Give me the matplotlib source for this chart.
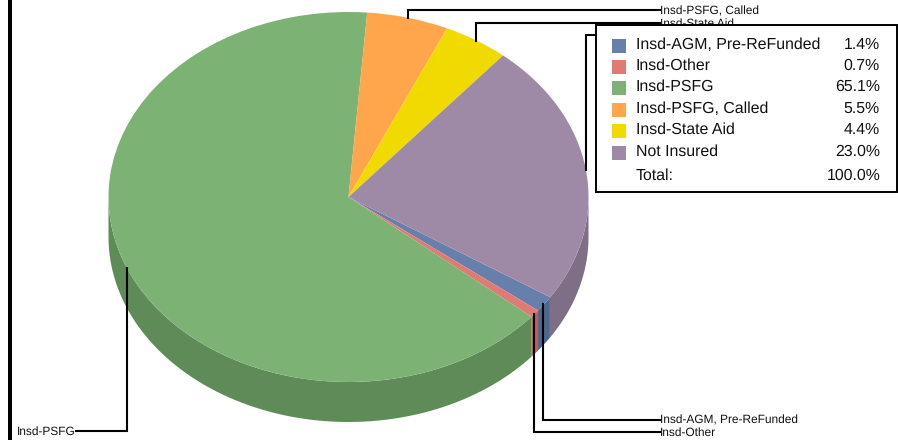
import numpy as np
import matplotlib
matplotlib.use('Agg')
import matplotlib.pyplot as plt
from matplotlib.patches import Rectangle

plt.rcParams['font.family'] = ['Liberation Sans', 'DejaVu Sans']
plt.rcParams['text.hinting'] = 'none'

# clockwise from the start angle, same order as the legend
names = ['Insd-AGM, Pre-ReFunded', 'Insd-Other', 'Insd-PSFG', 'Insd-PSFG, Called', 'Insd-State Aid', 'Not Insured']
values = [1.4, 0.7, 65.1, 5.5, 4.4, 23.0]
pct_labels = ['1.4%', '0.7%', '65.1%', '5.5%', '4.4%', '23.0%']
colors = ['#6680AB', '#E07A75', '#7DB275', '#FFA64D', '#F0DA00', '#9E8AA6']
side_colors = ['#4C6790', '#B8615C', '#5F8B59', '#C9813B', '#BBAA00', '#7E6E86']
total_label = '100.0%'

W, H = 898, 440
cx, cy, rx, ry, depth = 348.5, 197, 240, 185, 40
start = -32.8

fig = plt.figure(figsize=(W / 100, H / 100), dpi=100)

# pie axes, stretched so the circle turns into the tilted ellipse
ax = fig.add_axes([0, 0, 1, 1])
ax.pie(values, colors=colors, startangle=start, counterclock=False, radius=1, center=(0, 0),
       wedgeprops={'linewidth': 0})
ax.set_aspect('auto')
ax.set_xlim(-cx / rx, (W - cx) / rx)
ax.set_ylim((cy - H) / ry, cy / ry)
ax.axis('off')

# side wall, only the front half shows
d = depth / ry
ang = start
for v, c in zip(values, side_colors):
    a0, a1 = ang, ang - v * 3.6
    ang = a1
    if a0 < -180:
        a0 += 360
        a1 += 360
    a0n, a1n = min(a0, 0), max(a1, -180)
    if a1n >= a0n:
        continue
    t = np.radians(np.linspace(a0n, a1n, 80))
    x = np.cos(t)
    y = np.sin(t)
    ax.fill(np.r_[x, x[::-1]], np.r_[y, y[::-1] - d], color=c, lw=0, zorder=0)

# pixel overlay for leaders and legend
ov = fig.add_axes([0, 0, 1, 1])
ov.set_xlim(0, W)
ov.set_ylim(H, 0)
ov.axis('off')
ov.patch.set_alpha(0)

ov.add_patch(Rectangle((8, 0), 4, H, color='black', lw=0))

leaders = [
    ([408, 408, 660], [18, 10, 10]),
    ([476, 476, 660], [41, 23, 23]),
    ([586, 586, 600], [170, 35, 35]),
    ([127, 127, 76], [268, 431, 431]),
    ([543, 543, 660], [304, 420, 420]),
    ([534, 534, 660], [314, 432, 432]),
]
for lx, ly in leaders:
    ov.plot(lx, ly, color='black', lw=1.5, solid_joinstyle='miter', zorder=2)

lab_kw = dict(fontsize=8.55, va='center', color='#111111', zorder=2)
ov.text(660, 11.5, 'Insd-PSFG, Called', **lab_kw)
ov.text(660, 23.5, 'Insd-State Aid', **lab_kw)
ov.text(660, 420.5, 'Insd-AGM, Pre-ReFunded', **lab_kw)
ov.text(660, 432.5, 'Insd-Other', **lab_kw)
ov.text(17, 431.5, 'Insd-PSFG', **lab_kw)

# legend box
ov.add_patch(Rectangle((596, 25), 300.5, 167, facecolor='white', edgecolor='black', lw=1.4, zorder=3))
row_y = [45, 66, 87, 109, 130, 152]
for y, n, p, c in zip(row_y, names, pct_labels, colors):
    ov.add_patch(Rectangle((612, y - 6), 14, 14, color=c, lw=0, zorder=4))
    ov.text(636, y, n, fontsize=11.4, va='center', color='#111111', zorder=4)
    ov.text(880, y, p, fontsize=11.4, va='center', ha='right', color='#111111', zorder=4)
ov.text(636, 176, 'Total:', fontsize=11.4, va='center', color='#111111', zorder=4)
ov.text(881, 176, total_label, fontsize=11.4, va='center', ha='right', color='#111111', zorder=4)

fig.savefig('out.png', dpi=100)
